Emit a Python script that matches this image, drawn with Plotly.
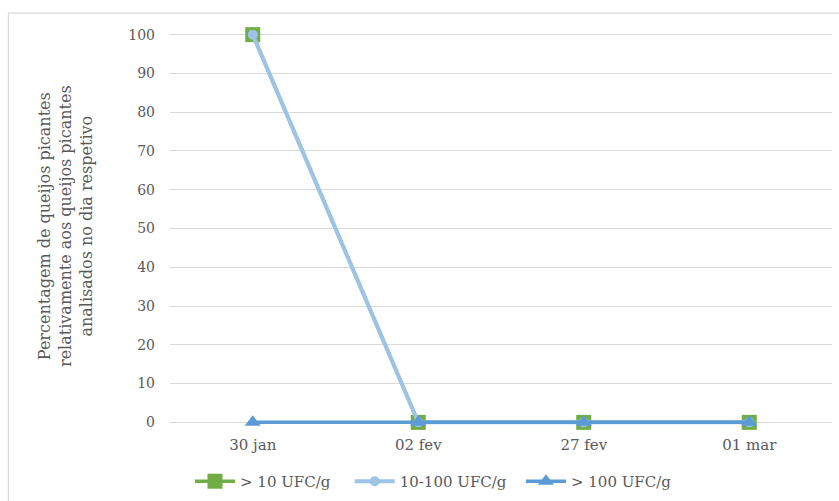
import plotly.graph_objects as go

# Sampling dates
dates = ["30 jan", "02 fev", "27 fev", "01 mar"]

# Percentage of spicy cheeses per count class
pct_gt10 = [100, 0, 0, 0]
pct_10_100 = [100, 0, 0, 0]
pct_gt100 = [0, 0, 0, 0]

y_ticks = [0, 10, 20, 30, 40, 50, 60, 70, 80, 90, 100]
series_names = ["> 10 UFC/g", "10-100 UFC/g", "> 100 UFC/g"]

FONT = "DejaVu Serif"
GREY = "#595959"
NB = "\u00a0"

fig = go.Figure()

fig.add_trace(go.Scatter(
    x=dates, y=pct_gt10, name=series_names[0] + NB * 3, mode="lines+markers",
    line=dict(color="#70AD47", width=3.5),
    marker=dict(symbol="square", size=15, color="#70AD47"),
    cliponaxis=False,
))
fig.add_trace(go.Scatter(
    x=dates, y=pct_10_100, name=series_names[1] + NB * 2, mode="lines+markers",
    line=dict(color="#9DC3E6", width=4),
    marker=dict(symbol="circle", size=10, color="#9DC3E6"),
    cliponaxis=False,
))
fig.add_trace(go.Scatter(
    x=dates, y=pct_gt100, name=series_names[2], mode="lines+markers",
    line=dict(color="#5B9BD5", width=3.5),
    marker=dict(symbol="triangle-up", size=14, color="#5B9BD5"),
    cliponaxis=False,
))

# plot area: value 100 sits at y=35 px, value 0 at y=422 px
W, H = 839, 501
y_lo, y_hi = -3, 103
px_per_unit = (422 - 35) / 100
L, R = 170, 7
T = 35 - (y_hi - 100) * px_per_unit
B = (H - 422) - (0 - y_lo) * px_per_unit
pw, ph = W - L - R, H - T - B

def px_x(p):
    return (p - L) / pw

def px_y(p):
    return 1 - (p - T) / ph

fig.update_layout(
    width=W, height=H,
    margin=dict(l=L, r=R, t=T, b=B, pad=0, autoexpand=False),
    paper_bgcolor="white", plot_bgcolor="white",
    font=dict(family=FONT, size=14, color=GREY),
    showlegend=True,
    legend=dict(
        orientation="h", x=px_x(190), y=px_y(481), xanchor="left", yanchor="middle",
        font=dict(family=FONT, size=15, color=GREY),
        itemwidth=40, traceorder="normal",
    ),
    xaxis=dict(
        type="category", range=[-0.5, 3.5], showgrid=False, zeroline=False,
        showline=False, ticks="", tickfont=dict(family=FONT, size=15, color=GREY),
        ticklabelstandoff=0,
    ),
    yaxis=dict(
        range=[y_lo, y_hi], tickvals=y_ticks, showgrid=True, gridcolor="#D9D9D9",
        gridwidth=1, zeroline=False, showline=False, ticks="",
        tickfont=dict(family=FONT, size=14, color=GREY),
        ticklabelstandoff=14,
    ),
    shapes=[
        dict(type="rect", xref="paper", yref="paper",
             x0=px_x(8.5), x1=px_x(845), y0=px_y(510), y1=px_y(13.5),
             line=dict(color="#D9D9D9", width=1.3), fillcolor="rgba(0,0,0,0)",
             layer="below"),
    ],
    annotations=[
        dict(
            text="Percentagem de queijos picantes<br>relativamente aos queijos picantes<br>analisados no dia respetivo",
            xref="paper", yref="paper", x=px_x(66), y=px_y(226),
            xanchor="center", yanchor="middle", textangle=-90, showarrow=False,
            font=dict(family=FONT, size=16, color=GREY),
        ),
    ],
)

fig.write_html("out.html")
